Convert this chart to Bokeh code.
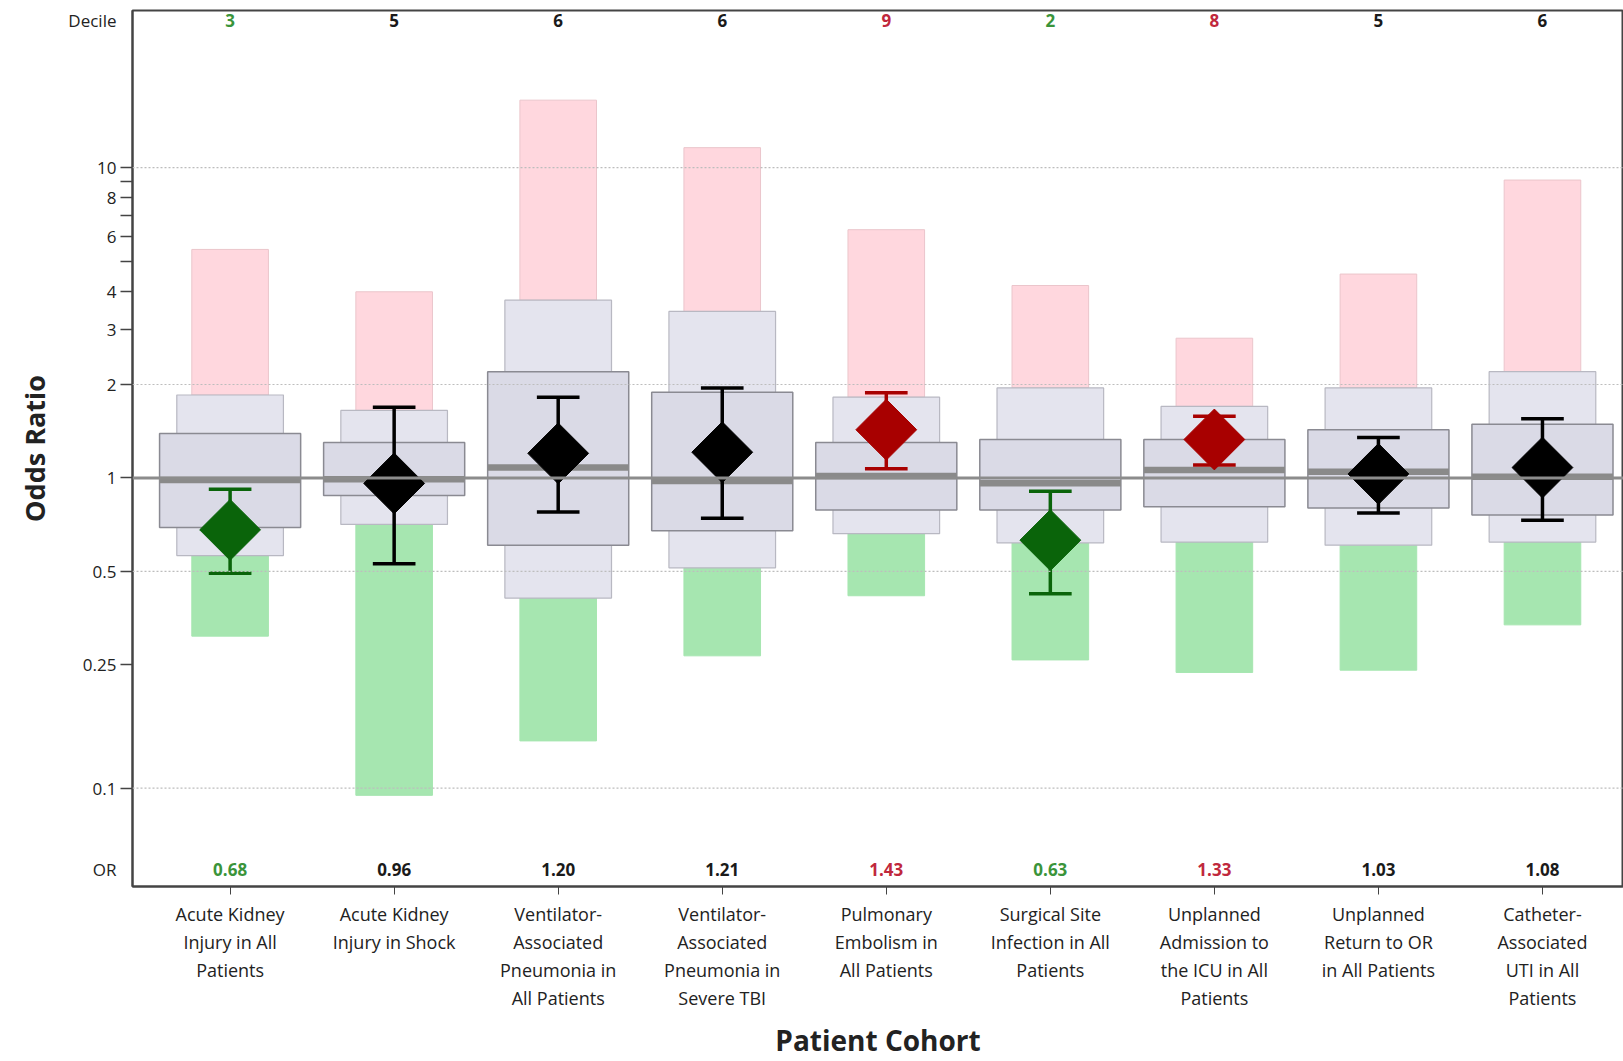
from bokeh.plotting import figure
from bokeh.models import Range1d, FixedTicker, Span, ColumnDataSource
from bokeh.core.properties import value
from bokeh.embed import file_html
from bokeh.resources import INLINE
import math

# ---------------- data ----------------
cohorts = [
    "Acute Kidney\nInjury in All\nPatients",
    "Acute Kidney\nInjury in Shock",
    "Ventilator-\nAssociated\nPneumonia in\nAll Patients",
    "Ventilator-\nAssociated\nPneumonia in\nSevere TBI",
    "Pulmonary\nEmbolism in\nAll Patients",
    "Surgical Site\nInfection in All\nPatients",
    "Unplanned\nAdmission to\nthe ICU in All\nPatients",
    "Unplanned\nReturn to OR\nin All Patients",
    "Catheter-\nAssociated\nUTI in All\nPatients",
]
deciles = [3, 5, 6, 6, 9, 2, 8, 5, 6]
odds_ratio = [0.68, 0.96, 1.20, 1.21, 1.43, 0.63, 1.33, 1.03, 1.08]
or_labels = ["0.68", "0.96", "1.20", "1.21", "1.43", "0.63", "1.33", "1.03", "1.08"]
ci_low = [0.493, 0.529, 0.776, 0.741, 1.07, 0.423, 1.10, 0.77, 0.73]
ci_high = [0.919, 1.69, 1.82, 1.95, 1.88, 0.905, 1.58, 1.35, 1.55]
status = ["low", "avg", "avg", "avg", "high", "low", "high", "avg", "avg"]
# distribution of hospital odds ratios
median_or = [0.985, 0.99, 1.08, 0.977, 1.015, 0.962, 1.06, 1.047, 1.008]
inner_low = [0.692, 0.877, 0.607, 0.676, 0.788, 0.788, 0.807, 0.80, 0.759]
inner_high = [1.39, 1.30, 2.20, 1.89, 1.30, 1.33, 1.33, 1.43, 1.49]
outer_low = [0.562, 0.708, 0.41, 0.513, 0.661, 0.617, 0.621, 0.607, 0.621]
outer_high = [1.85, 1.65, 3.74, 3.44, 1.82, 1.95, 1.70, 1.95, 2.20]
range_min = [0.309, 0.0948, 0.142, 0.267, 0.417, 0.259, 0.236, 0.24, 0.336]
range_max = [5.45, 3.98, 16.5, 11.6, 6.31, 4.17, 2.82, 4.54, 9.12]
y_ticks = [0.1, 0.25, 0.5, 1, 2, 3, 4, 6, 8, 10]
y_tick_labels = ["0.1", "0.25", "0.5", "1", "2", "3", "4", "6", "8", "10"]
y_minor = [5, 7, 9]
grid_values = [0.1, 0.5, 2, 10]
row_labels = ["Decile", "OR"]
row_y = [29.9, 0.0546]

# ---------------- styles ----------------
FONT = "Open Sans"
marker_col = {"low": "#0A640A", "avg": "#000000", "high": "#A80000"}
text_col = {"low": "#3A943A", "avg": "#1A1A1A", "high": "#C0283C"}

xs = list(range(1, len(cohorts) + 1))

p = figure(width=1623, height=1061, y_axis_type="log",
           x_range=Range1d(0.405, 9.494), y_range=Range1d(0.0482, 32.1),
           output_backend="svg", toolbar_location=None,
           min_border_left=132, min_border_right=0, min_border_top=10,
           min_border_bottom=174)
p.background_fill_color = "white"
p.border_fill_color = "white"
p.outline_line_color = "#444444"
p.outline_line_width = 2
p.xgrid.grid_line_color = None
p.ygrid.grid_line_color = None

# grid lines
for g in grid_values:
    p.add_layout(Span(location=g, dimension="width", line_color="#BDBDBD",
                      line_width=1.2, line_dash="2 2"))

src = ColumnDataSource(dict(
    x=xs, rmin=range_min, rmax=range_max, olo=outer_low, ohi=outer_high,
    ilo=inner_low, ihi=inner_high, med=median_or, orv=odds_ratio,
    cl=ci_low, ch=ci_high,
    mcol=[marker_col[s] for s in status],
    tcol=[text_col[s] for s in status],
    dec=[str(d) for d in deciles], orl=or_labels,
    dec_y=[row_y[0]] * len(xs), or_y=[row_y[1]] * len(xs),
))

# pink / green range bars
p.vbar(x="x", width=0.467, bottom="ohi", top="rmax", source=src,
       fill_color="#FFD7DE", line_color="#EBC5CB", line_width=1)
p.vbar(x="x", width=0.467, bottom="rmin", top="olo", source=src,
       fill_color="#A6E6B0", line_color="#A6E6B0", line_width=1)

# reference line at OR = 1
p.add_layout(Span(location=1, dimension="width", line_color="#8C8C8C",
                  line_width=3))

# outer and inner boxes
p.vbar(x="x", width=0.65, bottom="olo", top="ohi", source=src,
       fill_color="#E4E4EE", line_color="#B8B8C2", line_width=1.2)
p.vbar(x="x", width=0.86, bottom="ilo", top="ihi", source=src,
       fill_color="#DADAE6", line_color="#8A8A92", line_width=1.5)

# median line
p.segment(x0=[x - 0.43 for x in xs], x1=[x + 0.43 for x in xs],
          y0=median_or, y1=median_or, line_color="#8A8A8A", line_width=6.5)

# error bars
p.segment(x0="x", x1="x", y0="cl", y1="ch", source=src,
          line_color="mcol", line_width=3.5)
p.segment(x0=[x - 0.13 for x in xs], x1=[x + 0.13 for x in xs],
          y0=ci_low, y1=ci_low, line_color=src.data["mcol"], line_width=3.5)
p.segment(x0=[x - 0.13 for x in xs], x1=[x + 0.13 for x in xs],
          y0=ci_high, y1=ci_high, line_color=src.data["mcol"], line_width=3.5)

# diamonds
p.scatter(x="x", y="orv", source=src, marker="square", size=43,
          angle=math.pi / 4, fill_color="mcol", line_color="mcol")

# decile and OR rows
p.text(x="x", y="dec_y", text="dec", source=src, text_color="tcol",
       text_align="center", text_baseline="middle",
       text_font=value(FONT), text_font_size="17px", text_font_style="bold")
p.text(x="x", y="or_y", text="orl", source=src, text_color="tcol",
       text_align="center", text_baseline="middle",
       text_font=value(FONT), text_font_size="17px", text_font_style="bold")

# y axis: labels on major ticks (no marks), marks drawn as minor ticks
ya = p.yaxis[0]
ya.ticker = FixedTicker(ticks=y_ticks + row_y, minor_ticks=y_ticks + y_minor)
overrides = {v: l for v, l in zip(y_ticks, y_tick_labels)}
overrides.update({v: l for v, l in zip(row_y, row_labels)})
ya.major_label_overrides = overrides
ya.axis_label = "Odds Ratio"
ya.axis_label_text_font = FONT
ya.axis_label_text_font_size = "27px"
ya.axis_label_text_font_style = "bold"
ya.axis_label_text_color = "#222222"
ya.axis_label_standoff = 12
ya.major_label_text_font = FONT
ya.major_label_text_font_size = "17px"
ya.major_label_text_color = "#222222"
ya.major_tick_out = 12
ya.major_tick_in = 0
ya.major_tick_line_color = None
ya.minor_tick_out = 12
ya.minor_tick_in = 0
ya.minor_tick_line_color = "#444444"
ya.minor_tick_line_width = 1.5
ya.major_label_standoff = 4
ya.axis_line_color = "#444444"
ya.axis_line_width = 2

# x axis
xa = p.xaxis[0]
xa.ticker = FixedTicker(ticks=xs)
xa.major_label_overrides = {x: c for x, c in zip(xs, cohorts)}
xa.axis_label = "Patient Cohort"
xa.axis_label_text_font = FONT
xa.axis_label_text_font_size = "28px"
xa.axis_label_text_font_style = "bold"
xa.axis_label_text_color = "#222222"
xa.axis_label_standoff = 8
xa.major_label_text_font = FONT
xa.major_label_text_font_size = "18px"
xa.major_label_text_color = "#222222"
xa.major_label_text_line_height = 1.17
xa.major_tick_out = 8
xa.major_tick_in = 0
xa.minor_tick_line_color = None
xa.major_label_standoff = 7
xa.axis_line_color = "#444444"
xa.axis_line_width = 2
xa.major_tick_line_color = "#444444"

open("out.html", "w").write(file_html(p, INLINE))
